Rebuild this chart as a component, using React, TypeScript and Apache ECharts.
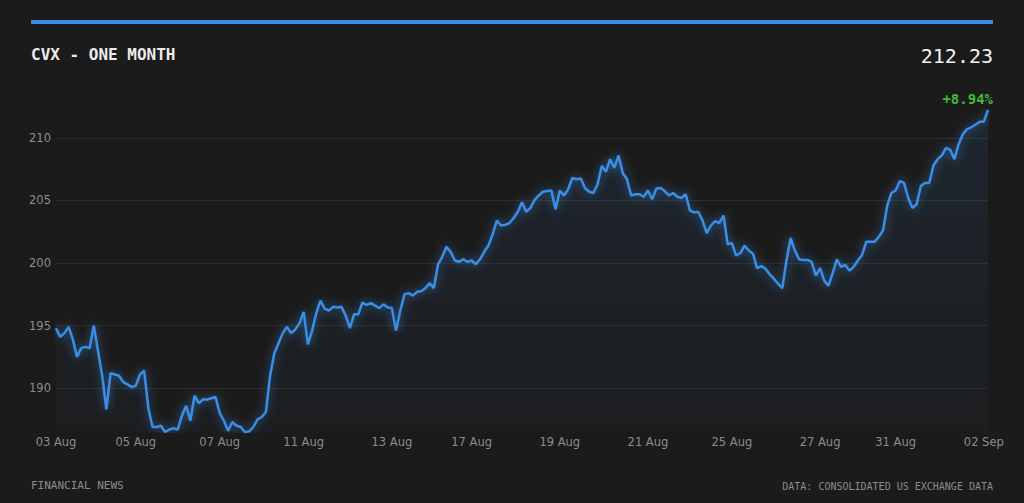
import React, { useEffect, useRef } from "react";
import * as echarts from "echarts";

// trading days and intraday closes for each day
const DAYS = [
  "03 Aug", "04 Aug", "05 Aug", "06 Aug", "07 Aug", "10 Aug", "11 Aug", "12 Aug",
  "13 Aug", "14 Aug", "17 Aug", "18 Aug", "19 Aug", "20 Aug", "21 Aug", "24 Aug",
  "25 Aug", "26 Aug", "27 Aug", "28 Aug", "31 Aug", "01 Sep", "02 Sep",
];

const LABELED_DAYS = [
  "03 Aug", "05 Aug", "07 Aug", "11 Aug", "13 Aug", "17 Aug",
  "19 Aug", "21 Aug", "25 Aug", "27 Aug", "31 Aug", "02 Sep",
];

const PRICES: number[][] = [
  [194.8, 194.1, 194.4, 194.9, 193.9, 192.5, 193.2, 193.3, 193.2, 195.0],
  [193.0, 191.0, 188.3, 191.2, 191.1, 191.0, 190.5, 190.3, 190.1],
  [190.2, 191.1, 191.4, 188.4, 186.9, 186.9, 187.0, 186.5, 186.7, 186.8],
  [186.7, 187.8, 188.6, 187.4, 189.4, 188.8, 189.1, 189.1, 189.2, 189.3],
  [188.0, 187.4, 186.6, 187.3, 187.0, 186.9, 186.5, 186.55, 186.9, 187.5],
  [187.7, 188.1, 191.0, 192.8, 193.6, 194.4, 194.9, 194.4, 194.7, 195.2],
  [196.1, 193.5, 194.6, 196.0, 197.0, 196.35, 196.2, 196.5, 196.45, 196.5, 195.8],
  [194.8, 195.9, 195.9, 196.85, 196.65, 196.8, 196.6, 196.4, 196.7, 196.45],
  [196.4, 194.6, 196.2, 197.5, 197.6, 197.4, 197.7, 197.75, 198.0, 198.4],
  [198.0, 199.9, 200.5, 201.3, 200.9, 200.2, 200.1, 200.3, 200.1],
  [200.2, 199.9, 200.3, 200.9, 201.4, 202.3, 203.4, 203.0, 203.05, 203.2, 203.6],
  [204.1, 204.85, 204.1, 204.4, 205.05, 205.4, 205.7, 205.75, 205.8, 204.3],
  [205.8, 205.4, 205.9, 206.8, 206.7, 206.75, 206.0, 205.7, 205.6, 206.3, 207.75],
  [207.3, 208.3, 207.6, 208.6, 207.2, 206.7, 205.4, 205.5, 205.5, 205.3],
  [205.8, 205.1, 205.95, 206.0, 205.75, 205.4, 205.6, 205.3, 205.2, 205.5],
  [204.2, 204.05, 204.1, 203.4, 202.4, 203.0, 203.35, 203.2, 203.8, 201.5],
  [201.6, 200.6, 200.8, 201.4, 201.0, 200.75, 199.6, 199.75, 199.55, 199.1, 198.75],
  [198.35, 198.0, 200.2, 202.0, 201.0, 200.3, 200.25, 200.25, 200.1, 199.0],
  [199.6, 198.6, 198.2, 199.2, 200.3, 199.7, 199.85, 199.4, 199.7],
  [200.2, 200.65, 201.7, 201.7, 201.7, 202.1, 202.6, 204.6, 205.6],
  [205.8, 206.55, 206.4, 205.2, 204.4, 204.7, 206.15, 206.4, 206.4, 207.8, 208.3],
  [208.6, 209.2, 209.05, 208.3, 209.5, 210.3, 210.7, 210.85, 211.05, 211.3],
  [211.3, 212.23],
];

const TICKER = "CVX - ONE MONTH";
const LAST_PRICE = "212.23";
const CHANGE = "+8.94%";
const SOURCE_LEFT = "FINANCIAL NEWS";
const SOURCE_RIGHT = "DATA: CONSOLIDATED US EXCHANGE DATA";

const BLUE = "#3a8ee6";
const MONO = "'DejaVu Sans Mono', monospace";
const SANS = "'DejaVu Sans', sans-serif";

export default function App() {
  const ref = useRef<HTMLDivElement | null>(null);

  useEffect(() => {
    if (!ref.current) return;
    const chart = echarts.init(ref.current, null, { renderer: "svg" });

    const cats: string[] = [];
    const vals: number[] = [];
    const firstIdx = new Set<number>();
    DAYS.forEach((d, di) => {
      PRICES[di].forEach((v, j) => {
        if (j === 0 && LABELED_DAYS.includes(d)) firstIdx.add(cats.length);
        cats.push(d + "|" + j);
        vals.push(v);
      });
    });

    chart.setOption({
      animation: false,
      backgroundColor: "#1b1b1b",
      grid: { left: 56, right: 36, top: 110, bottom: 71 },
      xAxis: {
        type: "category",
        data: cats,
        boundaryGap: false,
        axisLine: { show: false },
        axisTick: { show: false },
        splitLine: { show: false },
        axisLabel: {
          interval: (i: number) => firstIdx.has(i),
          formatter: (v: string) => v.split("|")[0],
          color: "#8c8c8c",
          fontFamily: SANS,
          fontSize: 11.5,
          margin: 4,
          hideOverlap: false,
        },
      },
      yAxis: {
        type: "value",
        scale: true,
        min: "dataMin",
        max: "dataMax",
        axisLine: { show: false },
        axisTick: { show: false },
        axisLabel: {
          color: "#8c8c8c",
          fontFamily: SANS,
          fontSize: 11.5,
          margin: 5,
          showMinLabel: false,
          showMaxLabel: false,
        },
        splitLine: {
          show: true,
          showMinLine: false,
          showMaxLine: false,
          lineStyle: { color: "#2d2d2d", width: 1 },
        },
      },
      series: [
        {
          type: "line",
          data: vals,
          symbol: "none",
          lineStyle: {
            color: BLUE,
            width: 2.5,
            shadowColor: "rgba(58,142,230,0.7)",
            shadowBlur: 10,
          },
          areaStyle: {
            color: new echarts.graphic.LinearGradient(0, 0, 0, 1, [
              { offset: 0, color: "rgba(58,142,230,0.14)" },
              { offset: 1, color: "rgba(58,142,230,0.03)" },
            ]),
          },
        },
      ],
      graphic: [
        { type: "rect", left: 31, top: 20, shape: { width: 962, height: 4 }, style: { fill: BLUE } },
        {
          type: "text", left: 31, top: 46,
          style: { text: TICKER, fill: "#ececec", font: `bold 16px ${MONO}` },
        },
        {
          type: "text", right: 31, top: 46,
          style: { text: LAST_PRICE, fill: "#f0f0f0", font: `20px ${MONO}` },
        },
        {
          type: "text", right: 31, top: 92,
          style: { text: CHANGE, fill: "#3dbb3d", font: `bold 14px ${MONO}` },
        },
        {
          type: "text", left: 31, top: 480,
          style: { text: SOURCE_LEFT, fill: "#8c8c8c", font: `11px ${MONO}` },
        },
        {
          type: "text", right: 31, top: 481,
          style: { text: SOURCE_RIGHT, fill: "#8c8c8c", font: `10px ${MONO}` },
        },
      ],
    });

    return () => chart.dispose();
  }, []);

  return (
    <div
      ref={ref}
      style={{ position: "fixed", left: 0, top: 0, width: 1024, height: 503, background: "#1b1b1b" }}
    />
  );
}
